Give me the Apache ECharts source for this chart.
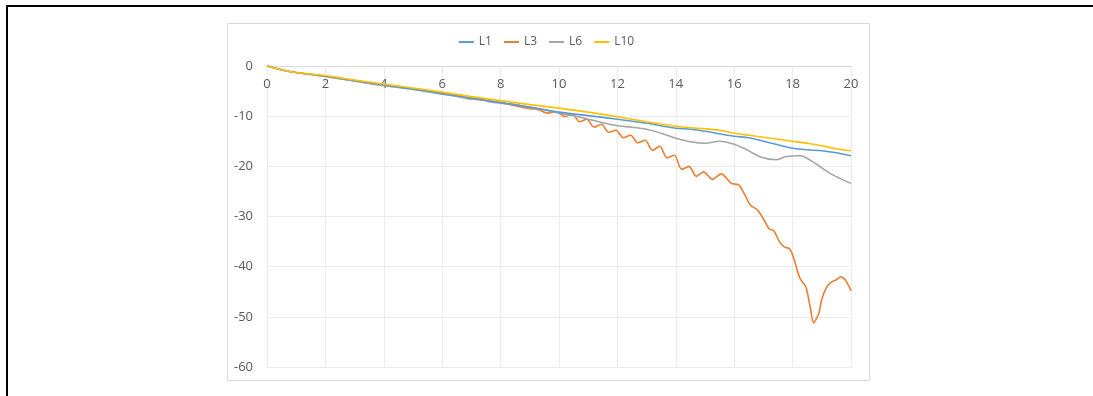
<!DOCTYPE html>
<html>
<head>
<meta charset="utf-8">
<script src="https://cdn.jsdelivr.net/npm/echarts@6/dist/echarts.min.js"></script>
<style>
html,body{margin:0;padding:0;background:#fff;}
#chart{width:1093px;height:396px;}
</style>
</head>
<body>
<div id="chart"></div>
<script>
var seriesNames = ['L1', 'L3', 'L6', 'L10'];
var xTicks = [0, 2, 4, 6, 8, 10, 12, 14, 16, 18, 20];
var yTicks = [0, -10, -20, -30, -40, -50, -60];

var l1X = [0, 0.6, 1, 2, 3, 4, 5, 6, 7, 8, 9, 10, 11, 12, 13, 14, 14.5, 15, 16, 16.5, 17, 17.5, 18, 18.5, 19, 19.5, 20];
var l1Y = [0, -0.9, -1.3, -2.0, -2.9, -3.8, -4.6, -5.5, -6.4, -7.3, -8.2, -9.2, -9.9, -10.6, -11.4, -12.4, -12.6, -13.0, -14.0, -14.3, -15.0, -15.7, -16.4, -16.7, -16.9, -17.3, -17.9];

var l3X = [0, 0.6, 1, 2, 3, 4, 5, 6, 7, 8, 8.5, 9, 9.3, 9.6, 9.9, 10.2, 10.45, 10.7, 10.95, 11.2, 11.45, 11.7, 11.95, 12.2, 12.45, 12.7, 12.95, 13.2, 13.45, 13.7, 13.95, 14.2, 14.45, 14.7, 14.95, 15.25, 15.55, 15.9, 16.15, 16.35, 16.55, 16.8, 17.0, 17.2, 17.35, 17.55, 17.7, 17.9, 18.05, 18.25, 18.45, 18.6, 18.72, 18.8, 18.9, 19.0, 19.15, 19.3, 19.5, 19.65, 19.8, 19.9, 20];
var l3Y = [0, -0.9, -1.3, -2.1, -3.0, -3.9, -4.6, -5.5, -6.5, -7.3, -7.9, -8.5, -8.7, -9.4, -9.1, -10.1, -9.6, -11.1, -10.6, -12.2, -11.6, -13.2, -12.8, -14.3, -13.8, -15.3, -14.8, -16.8, -16.0, -18.3, -17.8, -20.6, -20.0, -22.0, -21.1, -22.6, -21.5, -23.4, -23.7, -25.5, -27.7, -28.7, -30.5, -32.5, -32.8, -35.0, -36.0, -36.5, -38.5, -42.3, -44.0, -48.0, -51.2, -50.5, -49.3, -46.5, -44.3, -43.2, -42.6, -42.0, -42.6, -43.6, -44.8];

var l6X = [0, 0.6, 1, 2, 3, 4, 5, 6, 6.5, 7, 7.3, 7.6, 8, 8.5, 9, 9.5, 10, 10.5, 11, 11.5, 12, 12.5, 13, 13.5, 14, 14.5, 15, 15.5, 16, 16.43, 16.94, 17.45, 17.74, 18.25, 18.77, 19.28, 19.62, 20];
var l6Y = [0, -0.9, -1.3, -2.1, -3.0, -3.9, -4.7, -5.6, -6.0, -6.6, -6.5, -7.1, -7.4, -7.7, -8.3, -8.7, -9.4, -9.9, -10.6, -11.3, -11.9, -12.2, -12.6, -13.4, -14.4, -15.1, -15.4, -15.0, -15.6, -16.7, -18.2, -18.7, -18.1, -17.9, -19.4, -21.4, -22.4, -23.4];

var l10X = [0, 0.6, 1, 2, 3, 4, 5, 6, 7, 8, 9, 10, 11, 12, 13, 14, 14.5, 15, 15.5, 16, 16.5, 17, 17.5, 18, 18.5, 19, 19.5, 20];
var l10Y = [0, -0.9, -1.3, -1.9, -2.8, -3.6, -4.4, -5.2, -6.1, -6.9, -7.7, -8.4, -9.2, -10.1, -11.1, -12.0, -12.3, -12.5, -12.8, -13.4, -13.8, -14.2, -14.6, -15.0, -15.4, -15.9, -16.5, -16.9];

function pairs(xs, ys) { return xs.map(function (x, i) { return [x, ys[i]]; }); }

var colors = ['#5B9BD5', '#ED7D31', '#A5A5A5', '#FFC000'];
var dataSets = [pairs(l1X, l1Y), pairs(l3X, l3Y), pairs(l6X, l6Y), pairs(l10X, l10Y)];
var font = 'Open Sans, Noto Sans, sans-serif';

var chart = echarts.init(document.getElementById('chart'), null, { renderer: 'canvas' });
chart.setOption({
  animation: false,
  backgroundColor: '#ffffff',
  color: colors,
  graphic: [
    { type: 'rect', shape: { x: 6, y: 5, width: 1093, height: 2 }, style: { fill: '#000' }, silent: true },
    { type: 'rect', shape: { x: 6, y: 5, width: 2, height: 400 }, style: { fill: '#000' }, silent: true },
    { type: 'rect', shape: { x: 227.5, y: 23.5, width: 642, height: 357 }, style: { fill: 'none', stroke: '#D9D9D9', lineWidth: 1 }, silent: true }
  ],
  legend: {
    top: 31,
    left: 'center',
    itemWidth: 15,
    itemHeight: 2,
    itemGap: 12,
    icon: 'rect',
    textStyle: { color: '#595959', fontSize: 12, fontFamily: font },
    data: seriesNames
  },
  grid: { left: 267, right: 242, top: 66, bottom: 29, containLabel: false },
  xAxis: {
    type: 'value',
    position: 'top',
    min: 0, max: 20, interval: 2,
    axisLine: { show: true, onZero: false, lineStyle: { color: '#D9D9D9' } },
    axisTick: { show: false },
    axisLabel: {
      inside: true,
      color: '#595959', fontSize: 13, fontFamily: font, margin: 12,
      formatter: function (v) { return xTicks.indexOf(v) >= 0 ? String(v) : ''; }
    },
    splitLine: { show: true, lineStyle: { color: '#EBEBEB' } }
  },
  yAxis: {
    type: 'value',
    min: -60, max: 0, interval: 10,
    axisLine: { show: false },
    axisTick: { show: false },
    axisLabel: {
      color: '#595959', fontSize: 13, fontFamily: font, margin: 14,
      formatter: function (v) { return yTicks.indexOf(v) >= 0 ? String(v) : ''; }
    },
    splitLine: { show: true, lineStyle: { color: '#EBEBEB' } }
  },
  series: seriesNames.map(function (name, i) {
    return {
      name: name,
      type: 'line',
      data: dataSets[i],
      showSymbol: false,
      smooth: 0.3,
      z: [3, 2, 2, 4][i],
      lineStyle: { width: 1.6, color: colors[i] }
    };
  })
});
</script>
</body>
</html>
